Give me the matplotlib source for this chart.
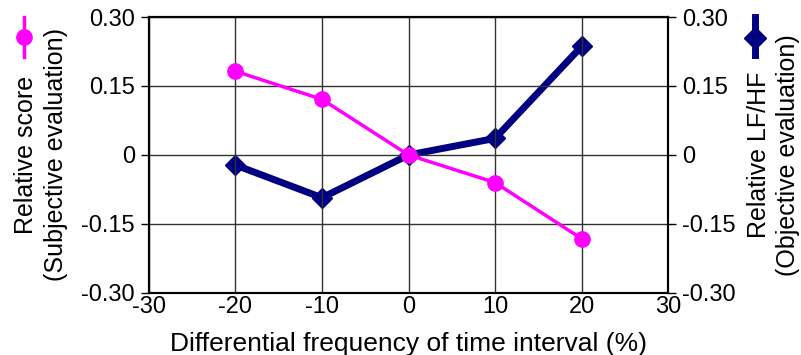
import matplotlib
matplotlib.use("Agg")
import matplotlib.pyplot as plt
from matplotlib.lines import Line2D

plt.rcParams['font.family'] = ['Liberation Sans', 'DejaVu Sans']
plt.rcParams['axes.unicode_minus'] = False

freq_diff = [-20, -10, 0, 10, 20]
rel_score = [0.182, 0.121, 0.0, -0.060, -0.182]      # subjective
rel_lfhf = [-0.022, -0.093, 0.0, 0.036, 0.236]       # objective
yticks = [-0.30, -0.15, 0, 0.15, 0.30]
yticklabels = ["-0.30", "-0.15", "0", "0.15", "0.30"]
xticks = [-30, -20, -10, 0, 10, 20, 30]

fig = plt.figure(figsize=(8.01, 3.55), dpi=100)
ax = fig.add_axes([0.186, 0.175, 0.648, 0.777])
ax2 = ax.twinx()

ax.plot(freq_diff, rel_score, color="#FF00FF", lw=2.5, marker="o", ms=11, zorder=4)
ax2.plot(freq_diff, rel_lfhf, color="#000080", lw=5, marker="D", ms=10, zorder=3)

for a in (ax, ax2):
    a.set_ylim(-0.30, 0.30)
    a.set_yticks(yticks)
    a.set_yticklabels(yticklabels)
    a.tick_params(labelsize=17, length=6, width=1, direction="out", pad=4)
    for s in a.spines.values():
        s.set_linewidth(1.5)
ax.set_xlim(-30, 30)
ax.set_xticks(xticks)
ax.tick_params(axis="x", length=0, pad=2)
ax.grid(True, color="#333333", lw=1)
ax.set_axisbelow(True)
ax.set_zorder(ax2.get_zorder() + 1)
ax.patch.set_visible(False)

ax.set_xlabel("Differential frequency of time interval (%)", fontsize=19, labelpad=10)
ax.set_ylabel("Relative score\n(Subjective evaluation)", fontsize=18, labelpad=10, linespacing=1.3)
ax2.set_ylabel("Relative LF/HF\n(Objective evaluation)", fontsize=18, labelpad=8,
               linespacing=1.3, rotation=90, va="top")

# little legend glyphs next to the axis titles
fig.add_artist(Line2D([0.030, 0.030], [0.840, 0.952], transform=fig.transFigure,
                      color="#FF00FF", lw=2.5))
fig.add_artist(Line2D([0.030], [0.896], transform=fig.transFigure, color="#FF00FF",
                      marker="o", ms=11))
fig.add_artist(Line2D([0.943, 0.943], [0.845, 0.952], transform=fig.transFigure,
                      color="#000080", lw=5))
fig.add_artist(Line2D([0.943], [0.893], transform=fig.transFigure, color="#000080",
                      marker="D", ms=11))

fig.savefig("out.png", dpi=100)
